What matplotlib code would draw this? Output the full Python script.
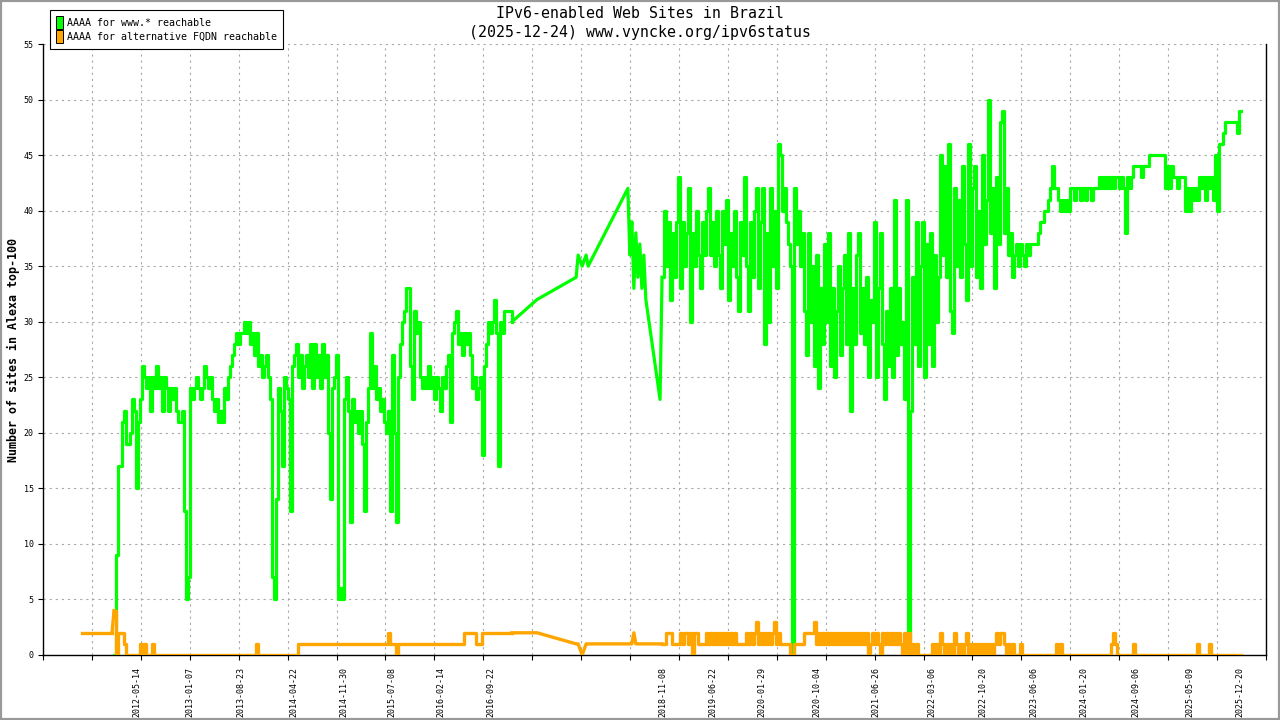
import numpy as np
import pandas as pd
import matplotlib
matplotlib.use("Agg")
import matplotlib.pyplot as plt
import matplotlib.dates as mdates
from matplotlib.patches import Patch, Rectangle

# ------------------------------
# Data
# ------------------------------

# orange series starts a little before the green one
pre_dates = ["2011-09-10", "2012-01-22"]
pre_orange = [2, 2]

# 2012-01-31 .. 2016-12-28, evenly spaced samples
seg1_start, seg1_end = "2012-01-31", "2016-12-28"
seg1_green = [
    0, 9, 17, 17, 21, 22, 19, 19, 20, 23,
    22, 15, 21, 23, 26, 25, 24, 25, 22, 25,
    24, 26, 24, 25, 22, 25, 24, 22, 24, 23,
    24, 22, 21, 21, 22, 13, 5, 7, 24, 23,
    24, 25, 24, 23, 24, 26, 25, 24, 25, 23,
    22, 23, 21, 22, 21, 24, 23, 25, 26, 27,
    28, 29, 28, 29, 29, 30, 29, 30, 28, 29,
    27, 29, 26, 27, 25, 26, 27, 25, 23, 7,
    5, 14, 24, 22, 17, 25, 24, 23, 13, 26,
    27, 28, 25, 27, 24, 26, 27, 25, 28, 24,
    28, 25, 27, 24, 28, 25, 27, 20, 14, 24,
    25, 27, 5, 6, 5, 23, 25, 22, 12, 23,
    21, 22, 20, 22, 19, 13, 21, 24, 29, 24,
    26, 23, 24, 22, 23, 21, 20, 22, 13, 27,
    20, 12, 25, 28, 30, 31, 33, 33, 26, 23,
    31, 29, 30, 25, 24, 25, 24, 26, 24, 25,
    23, 25, 24, 22, 25, 24, 26, 27, 21, 29,
    30, 31, 28, 29, 27, 29, 28, 29, 27, 24,
    25, 23, 24, 25, 18, 26, 28, 30, 29, 30,
    32, 29, 17, 30, 29, 31, 31, 31, 31, 30,
]
seg1_orange = [
    4, 0, 2, 2, 2, 1, 0, 0, 0, 0,
    0, 0, 0, 1, 0, 1, 0, 0, 0, 1,
    0, 0, 0, 0, 0, 0, 0, 0, 0, 0,
    0, 0, 0, 0, 0, 0, 0, 0, 0, 0,
    0, 0, 0, 0, 0, 0, 0, 0, 0, 0,
    0, 0, 0, 0, 0, 0, 0, 0, 0, 0,
    0, 0, 0, 0, 0, 0, 0, 0, 0, 0,
    0, 1, 0, 0, 0, 0, 0, 0, 0, 0,
    0, 0, 0, 0, 0, 0, 0, 0, 0, 0,
    0, 0, 1, 1, 1, 1, 1, 1, 1, 1,
    1, 1, 1, 1, 1, 1, 1, 1, 1, 1,
    1, 1, 1, 1, 1, 1, 1, 1, 1, 1,
    1, 1, 1, 1, 1, 1, 1, 1, 1, 1,
    1, 1, 1, 1, 1, 1, 1, 2, 1, 1,
    1, 0, 1, 1, 1, 1, 1, 1, 1, 1,
    1, 1, 1, 1, 1, 1, 1, 1, 1, 1,
    1, 1, 1, 1, 1, 1, 1, 1, 1, 1,
    1, 1, 1, 1, 1, 2, 2, 2, 2, 2,
    2, 1, 1, 1, 2, 2, 2, 2, 2, 2,
    2, 2, 2, 2, 2, 2, 2, 2, 2, 2,
]

# sparse measurements 2017-2018
mid_dates = [
    "2017-04-20", "2017-10-13", "2017-10-22", "2017-11-09", "2017-11-27",
    "2017-12-06", "2018-06-03", "2018-06-12", "2018-06-21", "2018-06-30",
    "2018-07-09", "2018-07-18", "2018-07-27", "2018-08-05", "2018-08-14",
    "2018-08-23", "2018-10-26",
]
mid_green = [32, 34, 36, 35, 36, 35, 42, 36, 39, 33, 38, 34, 37, 33, 36, 32, 23]
mid_orange = [2, 1, 1, 0, 1, 1, 1, 1, 1, 2, 1, 1, 1, 1, 1, 1, 1]

# 2018-11-04 .. 2023-02-18, evenly spaced samples
seg3_start, seg3_end = "2018-11-04", "2023-02-18"
seg3_green = [
    34, 40, 35, 39, 32, 38, 34, 39, 43, 33,
    39, 35, 38, 42, 30, 38, 35, 40, 36, 33,
    39, 36, 40, 42, 36, 39, 35, 40, 36, 33,
    40, 37, 41, 32, 38, 35, 40, 34, 31, 39,
    36, 43, 35, 31, 39, 34, 40, 42, 33, 39,
    42, 28, 38, 30, 42, 35, 40, 33, 46, 45,
    40, 42, 39, 37, 35, 0, 42, 37, 40, 35,
    38, 31, 27, 38, 30, 35, 26, 36, 24, 33,
    28, 37, 30, 38, 26, 33, 25, 31, 35, 27,
    33, 36, 28, 38, 22, 33, 28, 36, 38, 29,
    33, 28, 34, 25, 32, 30, 39, 25, 33, 38,
    28, 23, 31, 26, 33, 25, 41, 27, 33, 28,
    30, 23, 41, 0, 22, 34, 28, 39, 26, 35,
    39, 25, 37, 28, 38, 26, 36, 30, 34, 45,
    36, 44, 34, 46, 31, 29, 42, 35, 41, 34,
    44, 37, 32, 46, 35, 42, 44, 34, 40, 33,
    45, 37, 41, 50, 38, 42, 33, 43, 37, 48,
    49, 38, 42, 36, 38,
]
seg3_orange = [
    1, 1, 2, 2, 2, 1, 1, 1, 1, 2,
    1, 2, 2, 1, 2, 0, 2, 2, 1, 1,
    1, 1, 2, 1, 2, 1, 2, 1, 2, 1,
    2, 1, 2, 1, 2, 1, 2, 1, 1, 1,
    1, 1, 2, 1, 2, 1, 2, 3, 1, 2,
    1, 2, 1, 2, 1, 2, 3, 1, 2, 1,
    1, 1, 1, 1, 0, 0, 1, 1, 1, 1,
    1, 2, 2, 2, 2, 2, 3, 1, 2, 1,
    2, 1, 2, 1, 2, 1, 2, 1, 2, 1,
    2, 1, 2, 1, 2, 1, 2, 1, 2, 1,
    2, 1, 2, 0, 1, 2, 1, 2, 1, 0,
    2, 1, 2, 1, 2, 1, 2, 1, 2, 1,
    0, 2, 0, 2, 0, 1, 0, 1, 0, 0,
    0, 0, 0, 0, 0, 1, 0, 1, 0, 2,
    1, 0, 1, 0, 1, 0, 2, 1, 0, 1,
    0, 1, 2, 0, 1, 0, 1, 0, 1, 0,
    1, 0, 1, 0, 1, 0, 1, 2, 1, 2,
    2, 1, 0, 1, 0,
]

# 2023-02-27 .. 2025-12-24, evenly spaced samples
seg4_start, seg4_end = "2023-02-27", "2025-12-24"
seg4_green = [
    34, 36, 37, 35, 37, 36, 35, 37, 36, 37,
    37, 37, 37, 38, 39, 39, 40, 40, 41, 42,
    44, 42, 42, 41, 40, 41, 40, 41, 40, 42,
    42, 41, 42, 42, 41, 42, 42, 41, 42, 42,
    41, 42, 42, 42, 43, 42, 43, 42, 43, 42,
    43, 42, 43, 43, 42, 43, 42, 38, 43, 42,
    43, 44, 44, 44, 44, 43, 44, 44, 44, 45,
    45, 45, 45, 45, 45, 45, 45, 42, 44, 42,
    44, 43, 43, 42, 43, 43, 43, 40, 42, 40,
    42, 41, 42, 41, 43, 42, 43, 41, 43, 42,
    43, 41, 45, 40, 46, 46, 47, 48, 48, 48,
    48, 48, 48, 47, 49, 49,
]
seg4_orange = [
    1, 0, 0, 0, 1, 0, 0, 0, 0, 0,
    0, 0, 0, 0, 0, 0, 0, 0, 0, 0,
    0, 0, 1, 0, 1, 0, 0, 0, 0, 0,
    0, 0, 0, 0, 0, 0, 0, 0, 0, 0,
    0, 0, 0, 0, 0, 0, 0, 0, 0, 0,
    1, 2, 1, 0, 0, 0, 0, 0, 0, 0,
    0, 1, 0, 0, 0, 0, 0, 0, 0, 0,
    0, 0, 0, 0, 0, 0, 0, 0, 0, 0,
    0, 0, 0, 0, 0, 0, 0, 0, 0, 0,
    0, 0, 0, 1, 0, 0, 0, 0, 0, 1,
    0, 0, 0, 0, 0, 0, 0, 0, 0, 0,
    0, 0, 0, 0, 0, 0,
]

tick_labels = [
    "2012-05-14", "2013-01-07", "2013-08-23", "2014-04-22", "2014-11-30",
    "2015-07-08", "2016-02-14", "2016-09-22", "2018-11-08", "2019-06-22",
    "2020-01-29", "2020-10-04", "2021-06-26", "2022-03-06", "2022-10-20",
    "2023-06-06", "2024-01-20", "2024-09-06", "2025-05-09", "2025-12-20",
]

x_start, x_end = "2011-03-17", "2026-04-17"
n_grid = 25


# ------------------------------
# Build the series
# ------------------------------

def spread(start, end, values):
    """evenly spaced sample dates for one segment"""
    return pd.date_range(start, end, periods=len(values)).values


seg1_x = spread(seg1_start, seg1_end, seg1_green)
mid_x = pd.to_datetime(mid_dates).values
late_x = np.concatenate([spread(seg3_start, seg3_end, seg3_green),
                         spread(seg4_start, seg4_end, seg4_green)])
late_green = seg3_green + seg4_green
late_orange = seg3_orange + seg4_orange

# the sparse 2017-2018 stretch is drawn as plain joined points,
# the dense stretches as steps (daily samples look like that)
pieces = [
    ("steps", seg1_x, seg1_green, seg1_orange),
    ("line",
     np.concatenate([seg1_x[-1:], mid_x, late_x[:1]]),
     seg1_green[-1:] + mid_green + late_green[:1],
     seg1_orange[-1:] + mid_orange + late_orange[:1]),
    ("steps", late_x, late_green, late_orange),
]


# ------------------------------
# Plot
# ------------------------------

mono = "DejaVu Sans Mono"
green = "#00ff00"
orange = "#ffa500"

fig = plt.figure(figsize=(12.8, 7.2), dpi=100)
ax = fig.add_axes([43 / 1280, 65 / 720, 1223 / 1280, 611 / 720])

for style, xs, gy, oy in pieces:
    ds = "steps-post" if style == "steps" else "default"
    ax.plot(xs, gy, color=green, lw=2.3, drawstyle=ds, zorder=3)

ax.plot(pd.to_datetime(pre_dates).values, pre_orange, color=orange, lw=2.4,
        zorder=4)
ax.plot([pd.Timestamp(pre_dates[-1]), pd.Timestamp(seg1_start)],
        [pre_orange[-1], seg1_orange[0]], color=orange, lw=2.4, zorder=4)
for style, xs, gy, oy in pieces:
    ds = "steps-post" if style == "steps" else "default"
    ax.plot(xs, oy, color=orange, lw=2.4, drawstyle=ds, zorder=4)

xmin = mdates.date2num(pd.Timestamp(x_start))
xmax = mdates.date2num(pd.Timestamp(x_end))
ax.set_xlim(xmin, xmax)
ax.set_ylim(0, 55)

# regular tick marks + grid, labels sit at their own dates
ax.set_xticks(np.linspace(xmin, xmax, n_grid + 1), minor=True)
ax.set_xticks(mdates.date2num(pd.to_datetime(tick_labels)))
ax.set_xticklabels(tick_labels, rotation=90, family=mono, fontsize=6,
                   ha="center", va="top")
ax.tick_params(axis="x", which="major", length=0, pad=8.6)
ax.tick_params(axis="x", which="minor", length=3.6, width=0.8, direction="out")

ax.set_yticks(np.arange(0, 56, 5))
ax.set_yticklabels([str(v) for v in range(0, 56, 5)], family=mono, fontsize=6)
ax.tick_params(axis="y", length=3.6, width=0.8, direction="out", pad=3)

ax.grid(which="minor", axis="x", color="#a8a8a8", lw=0.8, ls=(0, (2, 3.5)))
ax.grid(which="major", axis="y", color="#a8a8a8", lw=0.8, ls=(0, (2, 3.5)))
ax.grid(which="major", axis="x", visible=False)
ax.set_axisbelow(True)

ax.spines["top"].set_visible(False)
for side in ["left", "bottom", "right"]:
    ax.spines[side].set_linewidth(1.0)

fig.text(13 / 1280, 1 - 350 / 720, "Number of sites in Alexa top-100",
         rotation=90, ha="center", va="center", family=mono,
         fontsize=8.4, fontweight="bold")

fig.text(0.5, 1 - 18.3 / 720, "IPv6-enabled Web Sites in Brazil",
         ha="center", va="baseline", family=mono, fontsize=10.7)
fig.text(0.5, 1 - 37 / 720, "(2025-12-24) www.vyncke.org/ipv6status",
         ha="center", va="baseline", family=mono, fontsize=10.7)

handles = [
    Patch(facecolor=green, edgecolor="black", lw=0.7,
          label="AAAA for www.* reachable"),
    Patch(facecolor=orange, edgecolor="black", lw=0.7,
          label="AAAA for alternative FQDN reachable"),
]
leg = fig.legend(handles=handles, loc="upper left",
                 bbox_to_anchor=(50 / 1280, 1 - 10 / 720),
                 prop={"family": mono, "size": 7.2},
                 handlelength=0.7, handleheight=1.6, handletextpad=0.4,
                 labelspacing=0.15, borderpad=0.6, borderaxespad=0,
                 fancybox=False, framealpha=1, edgecolor="black")
leg.get_frame().set_linewidth(0.8)

# thin grey frame round the whole picture
fig.patches.append(Rectangle((0, 0), 1, 1, transform=fig.transFigure,
                             fill=False, edgecolor="#999999", lw=3))

fig.savefig("out.png", dpi=100)
